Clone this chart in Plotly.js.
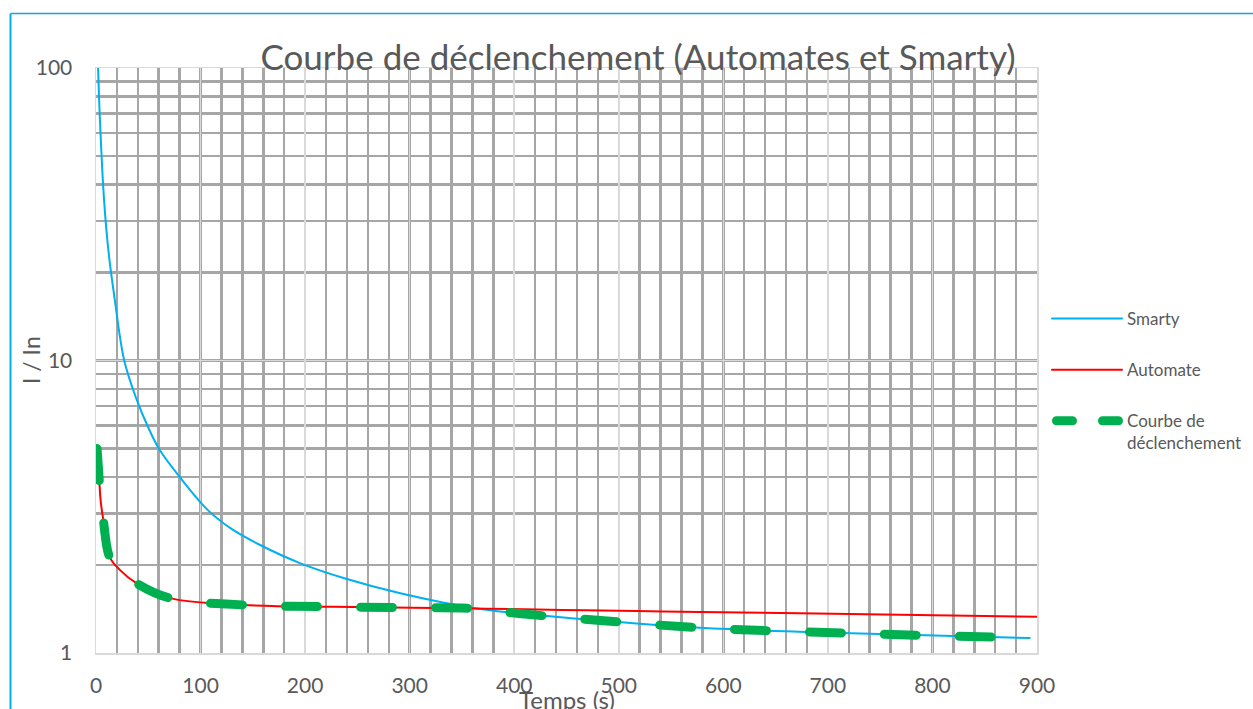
<!DOCTYPE html>
<html><head><meta charset="utf-8">
<script src="https://cdn.plot.ly/plotly-3.0.1.min.js"></script>
<style>
html,body{margin:0;padding:0;background:#fff;overflow:hidden}
#chart{width:1253px;height:709px}
.scatterlayer .js-line,.legendlines .js-line{stroke-linecap:round;stroke-linejoin:round}
.legend .groups:nth-of-type(3) .legendlines .js-line{stroke-dasharray:16px 30px !important;stroke-dashoffset:-4.5px}
</style></head><body><div id="chart"></div><script>
// Values
const smartyX = [2, 3.8, 7.7, 12, 18, 27, 39, 50, 61, 80, 107, 130, 157, 195, 240, 291, 361, 400, 450, 578, 714, 893];
const smartyY = [100, 66, 35.4, 23.5, 16.1, 10, 7.33, 5.9, 4.94, 4.0, 3.08, 2.65, 2.34, 2.03, 1.79, 1.60, 1.425, 1.37, 1.32, 1.22, 1.17, 1.125];
const automateX = [1, 3, 4.5, 7, 13, 23, 39, 71, 141, 227, 303, 374, 446, 517, 578, 673, 900];
const automateY = [5, 3.95, 3.3, 2.85, 2.13, 1.92, 1.73, 1.54, 1.46, 1.439, 1.428, 1.417, 1.403, 1.392, 1.381, 1.367, 1.331];
const courbeX = [1, 3, 4.5, 7, 13, 23, 39, 71, 141, 227, 303, 361, 400, 450, 578, 714, 870];
const courbeY = [5, 3.95, 3.3, 2.85, 2.13, 1.92, 1.73, 1.54, 1.46, 1.439, 1.428, 1.42, 1.37, 1.32, 1.22, 1.17, 1.13];
const xTicks = [0, 100, 200, 300, 400, 500, 600, 700, 800, 900];
const yTicks = [1, 10, 100];
const yTickText = ['1', '10', '100'];

const FONT = 'Lato, "Open Sans", sans-serif';
const GREY = '#595959';

const traces = [
  {x: smartyX, y: smartyY, name: 'Smarty', type: 'scatter', mode: 'lines',
   line: {color: '#00b0f0', width: 2, shape: 'spline', smoothing: 1}, legendgroup: 'a'},
  {x: automateX, y: automateY, name: 'Automate', type: 'scatter', mode: 'lines',
   line: {color: '#ff0000', width: 2, shape: 'spline', smoothing: 1}, legendgroup: 'b'},
  {x: courbeX, y: courbeY, name: 'Courbe de<br>déclenchement', type: 'scatter', mode: 'lines',
   line: {color: '#00b050', width: 9, dash: '32px,43px', shape: 'spline', smoothing: 1}, legendgroup: 'c'}
];

const W = 941, H = 585, L = 96, T = 68;
function px2x(p){return (p - L) / W;}
function py2y(p){return (T + H - p) / H;}

const layout = {
  width: 1253, height: 709,
  margin: {l: L, r: 1253 - L - W, t: T, b: 709 - T - H, autoexpand: false},
  paper_bgcolor: '#fff', plot_bgcolor: '#fff',
  font: {family: FONT, color: GREY},
  title: {text: 'Courbe de déclenchement (Automates et Smarty)', font: {family: FONT, size: 35, color: GREY},
          x: 638 / 1253, xanchor: 'center', y: 1 - 58 / 709, yanchor: 'middle'},
  showlegend: true,
  legend: {x: px2x(1047), xanchor: 'left', y: py2y(301), yanchor: 'top', valign: 'top',
           font: {family: FONT, size: 17, color: GREY}, itemwidth: 70,
           traceorder: 'grouped', tracegroupgap: 26, bgcolor: 'rgba(0,0,0,0)'},
  xaxis: {range: [0, 900], tickmode: 'array', tickvals: xTicks, ticktext: xTicks.map(String),
          showgrid: true, gridcolor: '#d9d9d9', gridwidth: 1.5,
          minor: {dtick: 20, tick0: 0, showgrid: true, gridcolor: '#a6a6a6', gridwidth: 2.5, ticks: ''},
          zeroline: false, showline: true, linecolor: '#d9d9d9', linewidth: 1.5, mirror: true,
          ticks: '', ticklabelstandoff: 13, tickfont: {family: FONT, size: 21, color: GREY}},
  yaxis: {type: 'log', range: [0, 2], tickmode: 'array', tickvals: yTicks, ticktext: yTickText,
          showgrid: true, gridcolor: '#d9d9d9', gridwidth: 1.5,
          minor: {dtick: 'D1', showgrid: true, gridcolor: '#a6a6a6', gridwidth: 2.5, ticks: ''},
          zeroline: false, showline: true, linecolor: '#d9d9d9', linewidth: 1.5, mirror: true,
          ticks: '', ticklabelstandoff: 18, tickfont: {family: FONT, size: 21, color: GREY}},
  annotations: [
    {text: 'Temps (s)', xref: 'paper', yref: 'paper', x: px2x(567), y: py2y(683), xanchor: 'center', yanchor: 'top',
     showarrow: false, font: {family: FONT, size: 24, color: GREY}},
    {text: 'I / In', xref: 'paper', yref: 'paper', x: px2x(31), y: py2y(360), xanchor: 'center', yanchor: 'middle',
     textangle: -90, showarrow: false, font: {family: FONT, size: 23, color: GREY}}
  ],
  shapes: [
    {type: 'line', xref: 'paper', yref: 'paper', x0: px2x(10.5), x1: px2x(1260), y0: py2y(13.5), y1: py2y(13.5),
     line: {color: '#1ba1e2', width: 1.5}},
    {type: 'line', xref: 'paper', yref: 'paper', x0: px2x(10.5), x1: px2x(10.5), y0: py2y(13.5), y1: py2y(720),
     line: {color: '#00b0f0', width: 2}}
  ]
};

Plotly.newPlot('chart', traces, layout, {displayModeBar: false, staticPlot: true}).then(function(gd){
  // legend sample of the thick dashed series: shorter dashes, as in the reference legend
  gd.querySelectorAll('.legend .legendlines path.js-line').forEach(function(p){
    if (parseFloat(p.style.strokeWidth) >= 8) {
      p.style.setProperty('stroke-dasharray', '16px 30px', 'important');
      p.style.setProperty('stroke-dashoffset', '-4.5px');
    }
  });
});
</script></body></html>
